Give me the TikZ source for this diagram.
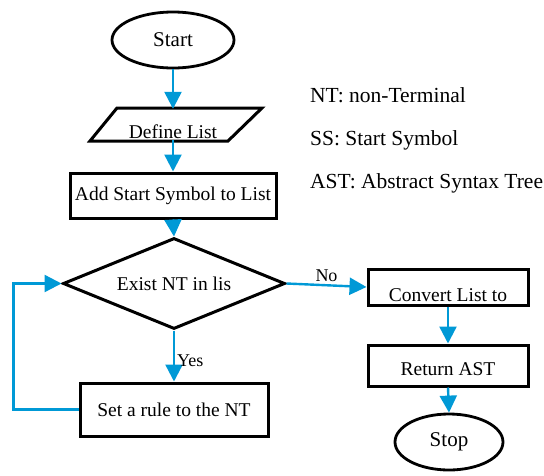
\documentclass[tikz,border=0pt]{standalone}
\usepackage{fontspec}
\setmainfont{Liberation Serif}
\usetikzlibrary{arrows.meta,shapes.geometric,positioning,calc}
\definecolor{bleuflux}{RGB}{0,153,214}

\begin{document}
\begin{tikzpicture}[x=1pt,y=-1pt,
  bloc/.style={draw=black,line width=3pt,rectangle,inner sep=0pt,font=\fontsize{19.5}{21}\selectfont},
  terminal/.style={draw=black,line width=2.8pt,ellipse,inner sep=0pt,font=\fontsize{21}{23}\selectfont},
  losange/.style={draw=black,line width=3pt,diamond,aspect=2.44,inner sep=0pt,font=\fontsize{19.5}{21}\selectfont},
  fleche/.style={draw=\colfleche,line width=2.4pt,-{Triangle[length=17pt,width=17pt]}},
  etiquette/.style={inner sep=2pt,font=\fontsize{18}{20}\selectfont},
  legende/.style={anchor=west,inner sep=0pt,font=\fontsize{21.5}{23}\selectfont}]

%Couleurs
\def \colfleche{bleuflux}

\useasboundingbox (0,0) rectangle (544,475);

%Début
\node[terminal,minimum width=122pt,minimum height=56pt] (start) at (173,40) {Start};

%Définition de la liste
\draw[black,line width=3pt] (117,108) -- (262,108) -- (228,141) -- (90,141) -- cycle;
\node[font=\fontsize{19.5}{21}\selectfont,text height=27pt,text depth=0pt,inner xsep=0pt,inner ysep=2pt,minimum width=120pt] (define) at (173,124.5) {Define List};

%Blocs de la boucle
\node[bloc,minimum width=206pt,minimum height=45pt] (ajout) at (173,195.5) {Add Start Symbol to List};
\node[losange,minimum width=222pt,minimum height=91pt] (existe) at (174,283.5) {Exist NT in lis};
\node[bloc,minimum width=188pt,minimum height=53pt] (regle) at (174,409.5) {Set a rule to the NT};

%Blocs de sortie
\node[bloc,minimum width=160pt,minimum height=36pt,text height=28pt,text depth=0pt] (convertir) at (448,287) {Convert List to};
\node[bloc,minimum width=160pt,minimum height=41pt,text height=20pt,text depth=0pt] (retour) at (448,365.5) {Return AST};
\node[terminal,minimum width=108pt,minimum height=56pt] (stop) at (449,442) {Stop};

%Légende
\node[legende] (nt) at (310,95) {NT: non-Terminal};
\node[legende] (ss) at (310,140) {SS: Start Symbol};
\node[legende] (ast) at (310,183) {AST: Abstract Syntax Tree};

%Flèches
\draw[fleche] (start.south) -- (define.north);
\draw[fleche] (define.south) -- (ajout.north);
\draw[fleche] (ajout.south) -- (existe.north);
\draw[fleche] (existe.south) -- node[etiquette,right,pos=0.6] (oui) {Yes} (regle.north);
\draw[fleche] (regle.west) -- ++(-65,0) |- (existe.west);
\draw[fleche] (existe.east) -- node[etiquette,above] (non) {No} (convertir.west);
\draw[fleche] (convertir.south) -- (retour.north);
\draw[fleche] (retour.south) -- (stop.north);

\end{tikzpicture}
\end{document}
